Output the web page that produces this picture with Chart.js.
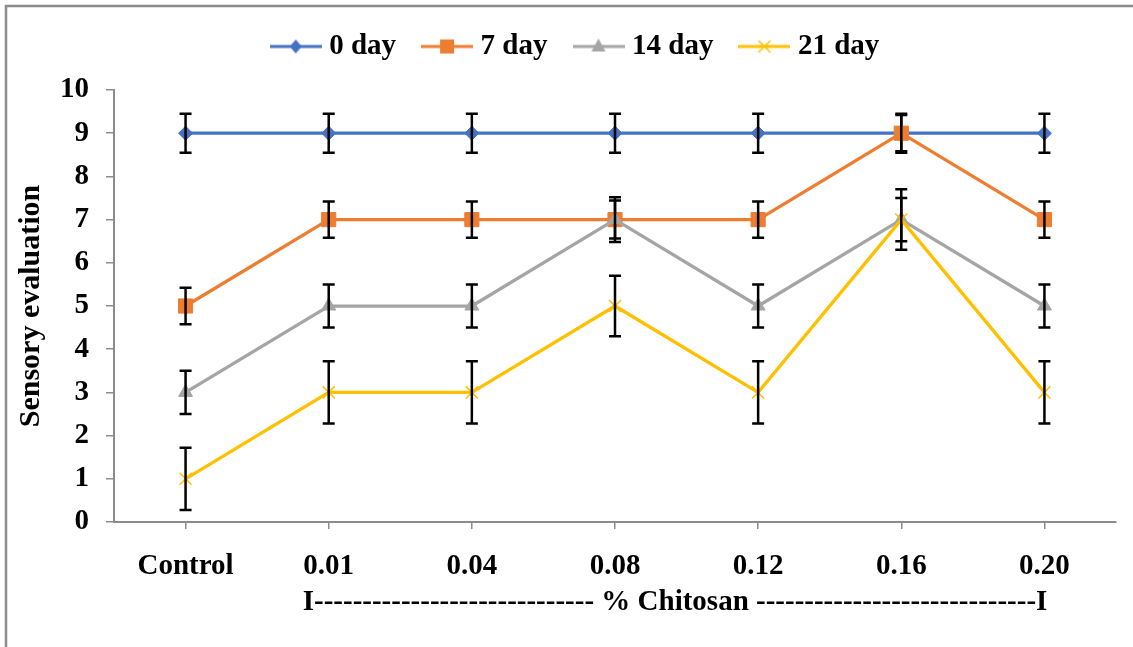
<!DOCTYPE html>
<html>
<head>
<meta charset="utf-8">
<script src="https://cdn.jsdelivr.net/npm/chart.js@4.4.1/dist/chart.umd.min.js"></script>
<style>
  html, body { margin: 0; padding: 0; background: #fff; }
  #wrap { width: 1133px; height: 647px; }
</style>
</head>
<body>
<div id="wrap"><canvas id="sensoryChart" width="1133" height="647"></canvas></div>
<script>
// Data
const categories = ['Control', '0.01', '0.04', '0.08', '0.12', '0.16', '0.20'];
const seriesNames = ['0 day', '7 day', '14 day', '21 day'];
const day0 = [9, 9, 9, 9, 9, 9, 9];
const day7 = [5, 7, 7, 7, 7, 9, 7];
const day14 = [3, 5, 5, 7, 5, 7, 5];
const day21 = [1, 3, 3, 5, 3, 7, 3];
// error bar half-lengths (+/-)
const err0 = [0.45, 0.45, 0.45, 0.45, 0.45, 0.45, 0.45];
const err7 = [0.42, 0.42, 0.42, 0.44, 0.42, 0.42, 0.42];
const err14 = [0.5, 0.5, 0.5, 0.52, 0.5, 0.5, 0.5];
const err21 = [0.72, 0.72, 0.72, 0.7, 0.72, 0.7, 0.72];
const yMin = 0, yMax = 10, yStep = 1;
const xTitle = 'I' + '-'.repeat(29) + ' % Chitosan ' + '-'.repeat(29) + 'I';

const FONT = "'Times New Roman', 'Liberation Serif', serif";
const AXIS_GREY = '#8c8c8c';
const colors = ['#4472C4', '#ED7D31', '#A5A5A5', '#FFC000'];
const markers = ['diamond', 'square', 'triangle', 'x'];

// little line+marker swatch used in the legend
function legendSwatch(color, marker) {
  const c = document.createElement('canvas');
  c.width = 52; c.height = 20;
  const g = c.getContext('2d');
  const cx = 26, cy = 10;
  g.strokeStyle = color;
  g.fillStyle = color;
  g.lineWidth = 3;
  g.beginPath(); g.moveTo(0, cy); g.lineTo(52, cy); g.stroke();
  g.beginPath();
  if (marker === 'diamond') {
    g.moveTo(cx, cy - 7); g.lineTo(cx + 6, cy); g.lineTo(cx, cy + 7); g.lineTo(cx - 6, cy); g.closePath(); g.fill();
  } else if (marker === 'square') {
    g.fillRect(cx - 7, cy - 7, 14, 14);
  } else if (marker === 'triangle') {
    g.moveTo(cx, cy - 8); g.lineTo(cx + 7, cy + 5); g.lineTo(cx - 7, cy + 5); g.closePath(); g.fill();
  } else {
    g.lineWidth = 1.5;
    g.moveTo(cx - 6, cy - 6); g.lineTo(cx + 6, cy + 6);
    g.moveTo(cx + 6, cy - 6); g.lineTo(cx - 6, cy + 6); g.stroke();
  }
  return c;
}

const errorSets = [err0, err7, err14, err21];

// frame around the figure
const framePlugin = {
  id: 'frame',
  beforeDraw(chart) {
    const ctx = chart.ctx;
    ctx.save();
    ctx.fillStyle = '#fff';
    ctx.fillRect(0, 0, chart.width, chart.height);
    ctx.strokeStyle = AXIS_GREY;
    ctx.lineWidth = 2.5;
    ctx.beginPath();
    ctx.moveTo(6, chart.height);
    ctx.lineTo(6, 6);
    ctx.lineTo(chart.width, 6);
    ctx.stroke();
    ctx.restore();
  }
};

// force legend block height so the plot area lines up, nudge it right a bit
const legendTweak = {
  id: 'legendTweak',
  beforeInit(chart) {
    const legend = chart.legend;
    const fit = legend.fit;
    legend.fit = function () {
      fit.call(this);
      this.height = 90;
    };
    const draw = legend.draw;
    legend.draw = function () {
      this.ctx.save();
      this.ctx.translate(20, 0);
      draw.call(this);
      this.ctx.restore();
    };
  }
};

// black error bars with caps
const errorBars = {
  id: 'errorBars',
  afterDatasetDraw(chart, args) {
    const errs = errorSets[args.index];
    const values = chart.data.datasets[args.index].data;
    const yScale = chart.scales.y;
    const ctx = chart.ctx;
    ctx.save();
    ctx.strokeStyle = '#000';
    ctx.lineWidth = 2.5;
    args.meta.data.forEach((pt, j) => {
      const top = yScale.getPixelForValue(values[j] + errs[j]);
      const bot = yScale.getPixelForValue(values[j] - errs[j]);
      ctx.beginPath();
      ctx.moveTo(pt.x, top); ctx.lineTo(pt.x, bot);
      ctx.moveTo(pt.x - 6, top); ctx.lineTo(pt.x + 6, top);
      ctx.moveTo(pt.x - 6, bot); ctx.lineTo(pt.x + 6, bot);
      ctx.stroke();
    });
    ctx.restore();
  }
};

// x axis caption spanning the chitosan levels
const xCaption = {
  id: 'xCaption',
  afterDraw(chart) {
    const ctx = chart.ctx;
    const x = chart.scales.x.getPixelForValue(1) - 26;
    ctx.save();
    ctx.fillStyle = '#000';
    ctx.font = 'bold 29px ' + FONT;
    ctx.textAlign = 'left';
    ctx.textBaseline = 'middle';
    ctx.fillText(xTitle, x, 603);
    ctx.restore();
  }
};

const makeSet = (i, data, style, radius, borderWidth) => ({
  label: seriesNames[i],
  data: data,
  borderColor: colors[i],
  backgroundColor: colors[i],
  borderWidth: 3.25,
  pointStyle: style,
  pointRadius: radius,
  pointBorderWidth: borderWidth,
  pointBackgroundColor: colors[i],
  pointBorderColor: colors[i],
  tension: 0,
  order: 3 - i
});

const ctx = document.getElementById('sensoryChart').getContext('2d');
const sensoryChart = new Chart(ctx, {
  type: 'line',
  data: {
    labels: categories,
    datasets: [
      makeSet(0, day0, 'rectRot', 7, 1),
      makeSet(1, day7, 'rect', 10, 1),
      makeSet(2, day14, 'triangle', 8, 1),
      makeSet(3, day21, 'crossRot', 8.5, 1.5)
    ]
  },
  options: {
    responsive: false,
    animation: false,
    layout: { padding: { top: 0, left: 0, right: 17, bottom: 0 } },
    plugins: {
      tooltip: { enabled: false },
      legend: {
        position: 'top',
        labels: {
          usePointStyle: true,
          pointStyleWidth: 38,
          padding: 32,
          color: '#000',
          font: { family: FONT, size: 29, weight: 'bold' },
          generateLabels(chart) {
            return chart.data.datasets.map((ds, i) => ({
              text: ds.label,
              pointStyle: legendSwatch(colors[i], markers[i]),
              fillStyle: colors[i],
              strokeStyle: colors[i],
              lineWidth: 0,
              fontColor: '#000',
              hidden: false,
              datasetIndex: i
            }));
          }
        }
      }
    },
    scales: {
      x: {
        type: 'category',
        offset: true,
        grid: { drawOnChartArea: false, tickLength: 7, color: AXIS_GREY, lineWidth: 1.5 },
        border: { color: AXIS_GREY, width: 2 },
        ticks: {
          color: '#000',
          font: { family: FONT, size: 29, weight: 'bold' },
          padding: 20,
          maxRotation: 0,
          autoSkip: false
        },
        afterFit(scale) { scale.height = 125; }
      },
      y: {
        min: yMin,
        max: yMax,
        grid: { drawOnChartArea: false, tickLength: 8, color: AXIS_GREY, lineWidth: 1.5 },
        border: { color: AXIS_GREY, width: 2 },
        ticks: {
          stepSize: yStep,
          color: '#000',
          font: { family: FONT, size: 29, weight: 'bold' },
          padding: 17
        },
        title: {
          display: true,
          text: 'Sensory evaluation',
          color: '#000',
          font: { family: FONT, size: 30, weight: 'bold' },
          padding: { top: 13, bottom: 0 }
        },
        afterFit(scale) { scale.width = 114; }
      }
    }
  },
  plugins: [framePlugin, legendTweak, errorBars, xCaption]
});
</script>
</body>
</html>
